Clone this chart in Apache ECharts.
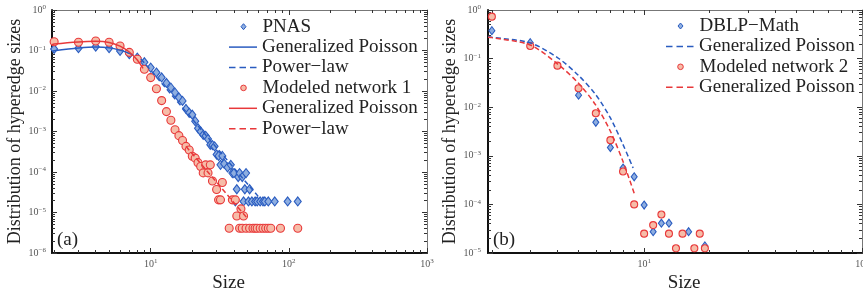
<!DOCTYPE html>
<html>
<head>
<meta charset="utf-8">
<script src="https://cdn.jsdelivr.net/npm/echarts@6/dist/echarts.min.js"></script>
<style>
  html, body { margin: 0; padding: 0; background: #fff; }
  #main { width: 863px; height: 291px; }
</style>
</head>
<body>
<div id="main"></div>
<script>
// ---- panel (a): PNAS and modeled network 1 ----
var pnas = [[2,0.109],[3,0.114],[4,0.124],[5,0.114],[6,0.0975],[7,0.081],[8,0.0667],[9,0.0513],[10,0.0378],
  [11,0.0286],[12,0.0216],[13,0.0158],[14,0.0121],[15,0.0091],[16,0.0069],[17,0.0057],[18,0.0036],[19,0.0029],
  [20,0.0026],[21,0.0018],[22,0.0012],[23,0.001],[24,8.3e-4],[25,7.8e-4],[26,6.5e-4],[27,4.7e-4],[28,4.6e-4],
  [29,4.3e-4],[30,2.7e-4],[31,2.5e-4],[32,1.5e-4],[33,2.5e-4],[34,1.6e-4],[36,1.3e-4],[38,1.5e-4],[39,9.4e-5],
  [40,9.4e-5],[42,3.75e-5],[43,7.5e-5],[44,9.4e-5],[46,7.5e-5],[48,3.75e-5],[49,9.4e-5],[52,3.75e-5],
  [41,1.87e-5],[47,1.87e-5],[51,1.87e-5],[54,1.87e-5],[57,1.87e-5],[59,1.87e-5],[62,1.87e-5],[65,1.87e-5],
  [67,1.87e-5],[71,1.87e-5],[79,1.87e-5],[98,1.87e-5],[116,1.87e-5]];
var pnasGP = [[1.93,0.095],[2,0.098],[3,0.115],[4,0.122],[5,0.117],[6,0.102],[7,0.085],[7.5,0.077]];
var pnasPL = [[8.5,0.062],[20,0.00202],[40,1.26e-4],[60,2.5e-5]];

var model1 = [[2,0.165],[3,0.16],[4,0.172],[5,0.16],[6,0.129],[7,0.09],[8,0.061],[9,0.0345],[10,0.0214],
  [11,0.0114],[12,0.0058],[13,0.0031],[14,0.0019],[15,0.0011],[16,7.9e-4],[17,6.0e-4],[18,4.3e-4],[19,3.5e-4],
  [20,2.45e-4],[21,2.2e-4],[22,1.7e-4],[23,1.37e-4],[24,9.5e-5],[25,1.5e-4],[26,9.5e-5],[27,1.5e-4],[28,6.0e-5],
  [30,3.7e-5],[31,2.05e-5],[32,2.05e-5],[33,5.5e-5],[37,4.1e-6],[39,2.05e-5],[41,2.05e-5],[42,8.2e-6],
  [44,4.1e-6],[45,1.23e-5],[46,4.1e-6],[47,8.2e-6],[49,4.1e-6],[52,4.1e-6],[55,4.1e-6],[57,4.1e-6],[59,4.1e-6],
  [62,4.1e-6],[65,4.1e-6],[68,4.1e-6],[71,4.1e-6],[74,4.1e-6],[87,4.1e-6],[116,4.1e-6]];
var model1GP = [[1.93,0.14],[2,0.145],[3,0.163],[4,0.168],[5,0.158],[6,0.128],[7,0.092],[8,0.058],[8.8,0.036]];
var model1PL = [[18,4.3e-4],[25,1.16e-4],[33,3.8e-5],[50,7.2e-6]];

// ---- panel (b): DBLP-Math and modeled network 2 ----
var dblp = [[2,0.376],[3,0.213],[5,0.0177],[6,0.0049],[7,0.00148],[8,5.6e-4],[9,3.7e-4],[10,9.7e-5],
  [11,2.74e-5],[12,4.1e-5],[13,4.1e-5],[16,2.74e-5],[19,1.4e-5]];
var dblpGP = [[1.92,0.28],[2,0.275],[3,0.21],[4,0.105],[5,0.045],[6,0.018],[7,0.006],[8,0.0017],[8.9,5.6e-4]];
var model2 = [[2,0.73],[3,0.182],[4,0.0716],[5,0.0246],[6,0.0075],[7,0.0021],[8,4.75e-4],[9,1.0e-4],
  [10,2.5e-5],[11,3.75e-5],[12,6.2e-5],[13,2.5e-5],[14,1.25e-5],[15,2.5e-5],[17,1.25e-5],[18,2.5e-5],[19,1.25e-5]];
var model2GP = [[1.92,0.275],[2,0.27],[3,0.19],[4,0.078],[5,0.031],[6,0.011],[7,0.0032],[8,7.6e-4],[9,1.7e-4]];

// decade ticks
var xMajorA = [10, 100, 1000];
var yMajorA = [1e-6, 1e-5, 1e-4, 1e-3, 1e-2, 1e-1, 1];
var xMajorB = [10, 100];
var yMajorB = [1e-5, 1e-4, 1e-3, 1e-2, 1e-1, 1];

var serif = 'Liberation Serif';
var blue = '#2a5cc0', blueFill = '#8eaee0';
var red = '#e8383a', redFill = '#f6bca8';

function minorTicks(lo, hi) {
  var out = [];
  for (var p = Math.floor(Math.log10(lo)); p < Math.ceil(Math.log10(hi)); p++) {
    for (var k = 2; k <= 9; k++) {
      var v = k * Math.pow(10, p);
      if (v >= lo && v <= hi) out.push(v);
    }
  }
  return out;
}

function expLabel(v) {
  var e = Math.round(Math.log10(v));
  return '{b|10}{s|' + (e < 0 ? '\u2212' + (-e) : e) + '}';
}

var tickLabel = {
  show: true,
  formatter: expLabel,
  rich: {
    b: { fontFamily: serif, fontSize: 10, color: '#555' },
    s: { fontFamily: serif, fontSize: 7, color: '#555', verticalAlign: 'top', padding: [0, 0, 5, 0] }
  }
};

// four axes per side: main, minor overlay, opposite major, opposite minor
function makeAxes(dim, grid, min, max, majors, main) {
  var pos = dim === 'x' ? ['bottom', 'top'] : ['left', 'right'];
  var minors = minorTicks(min, max);
  function ax(p, ticks, len, line, extra) {
    return Object.assign({
      gridIndex: grid, type: 'log', logBase: 10, min: min, max: max, position: p, silent: true,
      splitLine: { show: false },
      axisLine: line ? { show: true, onZero: false, lineStyle: line } : { show: false },
      axisTick: { show: true, inside: true, length: len, customValues: ticks, lineStyle: { color: '#333', width: 1 } },
      axisLabel: { show: false }
    }, extra || {});
  }
  return [
    ax(pos[0], majors, 5, { color: '#111', width: 2 }, main),
    ax(pos[0], minors, 3, null),
    ax(pos[1], majors, 5, { color: '#777', width: 1 }),
    ax(pos[1], minors, 3, null)
  ];
}

function yName(gap) {
  return {
    name: 'Distribution of hyperedge sizes', nameLocation: 'middle', nameGap: gap,
    nameTextStyle: { fontFamily: serif, fontSize: 18, color: '#222' }
  };
}
function xName(pad) {
  return {
    name: 'Size', nameLocation: 'middle', nameGap: 15,
    nameTextStyle: { fontFamily: serif, fontSize: 19, color: '#222', padding: pad }
  };
}

var xAxes = makeAxes('x', 0, 1.93, 1000, xMajorA,
  Object.assign({ axisLabel: Object.assign({ margin: 5, customValues: xMajorA }, tickLabel) }, xName([0, 22, 0, 0])))
  .concat(makeAxes('x', 1, 1.92, 100, xMajorB,
  Object.assign({ axisLabel: Object.assign({ margin: 5, customValues: xMajorB }, tickLabel) }, xName([0, 0, 0, 18]))));
var yAxes = makeAxes('y', 0, 1e-6, 1, yMajorA,
  Object.assign({ axisLabel: Object.assign({ margin: 6, customValues: yMajorA }, tickLabel) }, yName(24)))
  .concat(makeAxes('y', 1, 1e-5, 1, yMajorB,
  Object.assign({ axisLabel: Object.assign({ margin: 7, customValues: yMajorB }, tickLabel) }, yName(29))));

// legend icons all span the full 28x6 box (the leading moves pin the bounds)
var box = 'path://M0,0 M28,6 ';
var solidIcon = box + 'M0,2.25H28V3.75H0Z';
var dashIcon = box + 'M0,2.25h6.5v1.5h-6.5z M10.5,2.25h6.5v1.5h-6.5z M21,2.25h6.5v1.5h-6.5z';
var diamondIcon = box + 'M14,0L16.5,3L14,6L11.5,3Z';
var circleIcon = box + 'M14,0.2A2.8,2.8,0,1,1,14,5.8A2.8,2.8,0,1,1,14,0.2Z';

function dots(name, data, xi, shape, size, fill, stroke) {
  return {
    name: name, type: 'scatter', xAxisIndex: xi, yAxisIndex: xi, data: data,
    symbol: shape, symbolSize: size,
    itemStyle: { color: fill, borderColor: stroke, borderWidth: 1.1, opacity: 1 }
  };
}
function curve(name, data, xi, color, dashed, smooth) {
  return {
    name: name, type: 'line', xAxisIndex: xi, yAxisIndex: xi, data: data,
    symbol: 'none', smooth: smooth, silent: true,
    itemStyle: { color: color },
    lineStyle: { color: color, width: 1.5, type: dashed ? [5, 3] : 'solid' }
  };
}

// one legend per row so every row sits at a fixed pitch
function legendRows(left, top, items) {
  return items.map(function (it, i) {
    return {
      left: left, top: top + i * 20.4, orient: 'vertical', padding: 0,
      itemWidth: 28, itemHeight: 6, selectedMode: false,
      textStyle: { fontFamily: serif, fontSize: 19, color: '#222', lineHeight: 20 },
      formatter: function (name) { return name.replace(/ \(.*\)$/, ''); },
      data: [{ name: it[0], icon: it[1], itemStyle: it[2] }]
    };
  });
}
var dotBlue = { color: blueFill, borderColor: blue, borderWidth: 1 };
var dotRed = { color: redFill, borderColor: red, borderWidth: 1 };

var chart = echarts.init(document.getElementById('main'), null, { renderer: 'canvas' });
chart.setOption({
  animation: false,
  backgroundColor: '#fff',
  grid: [
    { left: 52, top: 10, right: 436, bottom: 38, outerBoundsMode: 'none' },
    { left: 488, top: 10, right: 1, bottom: 38, outerBoundsMode: 'none' }
  ],
  xAxis: xAxes,
  yAxis: yAxes,
  legend: legendRows(229, 16.7, [
    ['PNAS', diamondIcon, dotBlue],
    ['Generalized Poisson (PNAS)', solidIcon, { color: blue, borderWidth: 0 }],
    ['Power\u2212law (PNAS)', dashIcon, { color: blue, borderWidth: 0 }],
    ['Modeled network 1', circleIcon, dotRed],
    ['Generalized Poisson (model 1)', solidIcon, { color: red, borderWidth: 0 }],
    ['Power\u2212law (model 1)', dashIcon, { color: red, borderWidth: 0 }]
  ]).concat(legendRows(666, 16, [
    ['DBLP\u2212Math', diamondIcon, dotBlue],
    ['Generalized Poisson (DBLP)', dashIcon, { color: blue, borderWidth: 0 }],
    ['Modeled network 2', circleIcon, dotRed],
    ['Generalized Poisson (model 2)', dashIcon, { color: red, borderWidth: 0 }]
  ])),
  graphic: [
    { type: 'text', left: 57, top: 231, style: { text: '(a)', fontFamily: serif, fontSize: 19, fill: '#222' } },
    { type: 'text', left: 493, top: 231, style: { text: '(b)', fontFamily: serif, fontSize: 19, fill: '#222' } }
  ],
  series: [
    dots('PNAS', pnas, 0, 'diamond', [7, 9], blueFill, blue),
    curve('Generalized Poisson (PNAS)', pnasGP, 0, blue, false, 0.3),
    curve('Power\u2212law (PNAS)', pnasPL, 0, blue, true, false),
    dots('Modeled network 1', model1, 0, 'circle', 8, redFill, red),
    curve('Generalized Poisson (model 1)', model1GP, 0, red, false, 0.3),
    curve('Power\u2212law (model 1)', model1PL, 0, red, true, false),
    dots('DBLP\u2212Math', dblp, 4, 'diamond', [6, 8], blueFill, blue),
    curve('Generalized Poisson (DBLP)', dblpGP, 4, blue, true, 0.3),
    dots('Modeled network 2', model2, 4, 'circle', 7, redFill, red),
    curve('Generalized Poisson (model 2)', model2GP, 4, red, true, 0.3)
  ]
});
</script>
</body>
</html>
